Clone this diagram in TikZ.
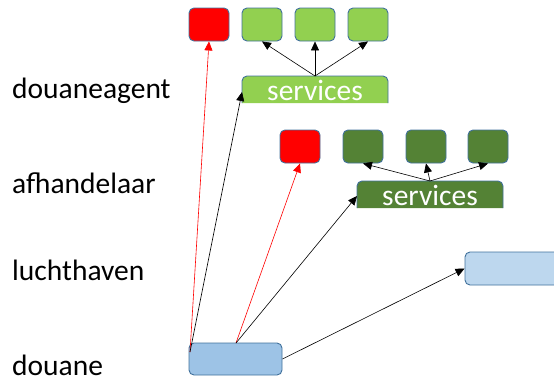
\documentclass[tikz,border=0pt]{standalone}
\usepackage{fontspec}
\setmainfont{Carlito}
\usetikzlibrary{arrows.meta}
\definecolor{bord}{HTML}{41719C}
\definecolor{lgreen}{HTML}{92D050}
\definecolor{dgreen}{HTML}{548235}
\definecolor{dblue}{HTML}{9DC3E6}
\definecolor{lblue}{HTML}{BDD7EE}
\tikzset{
  box/.style={draw=bord, line width=0.9pt, rounded corners=5pt, inner sep=0pt},
  lbl/.style={anchor=base west, inner sep=0pt, font=\fontsize{29.5}{31}\selectfont},
  arr/.style={-{Triangle[length=9pt,width=8pt]}, line width=0.6pt, black},
  rarr/.style={-{Triangle[length=9pt,width=8pt]}, line width=0.6pt, red},
  svc/.style={text=white, font=\fontsize{29.5}{31}\selectfont, anchor=base, inner sep=0pt}
}
\begin{document}
\begin{tikzpicture}[x=1pt,y=-1pt]
\useasboundingbox (0,0) rectangle (554,381);
\clip (0,0) rectangle (554,381);
% labels
\node[lbl] (l1) at (12,98) {douaneagent};
\node[lbl] (l2) at (12,193) {afhandelaar};
\node[lbl] (l3) at (12,280) {luchthaven};
\node[lbl] (l4) at (12,375) {douane};
% top row
\node[box, fill=red, minimum width=40pt, minimum height=33pt] (r1) at (209,24.5) {};
\node[box, fill=lgreen, minimum width=40pt, minimum height=33pt] (g1) at (262,24.5) {};
\node[box, fill=lgreen, minimum width=40pt, minimum height=33pt] (g2) at (315,24.5) {};
\node[box, fill=lgreen, minimum width=40pt, minimum height=33pt] (g3) at (368,24.5) {};
% services 1 (open bottom)
\fill[lgreen] (242,103) -- (242,81) [rounded corners=5pt] -- (242,76) -- (388,76) [sharp corners] -- (388,81) -- (388,103) -- cycle;
\draw[bord, line width=0.9pt] (242,103) [rounded corners=5pt] -- (242,76) -- (388,76) [sharp corners] -- (388,103);
\node[svc] (s1) at (315,100) {services};
\coordinate (s1n) at (315,76);
\coordinate (s1w) at (242,92);
% second row
\node[box, fill=red, minimum width=40pt, minimum height=33pt] (r2) at (300,146.5) {};
\node[box, fill=dgreen, minimum width=40pt, minimum height=33pt] (h1) at (363,146.5) {};
\node[box, fill=dgreen, minimum width=40pt, minimum height=33pt] (h2) at (426,146.5) {};
\node[box, fill=dgreen, minimum width=40pt, minimum height=33pt] (h3) at (488,146.5) {};
\fill[dgreen] (357,208) -- (357,186) [rounded corners=5pt] -- (357,181) -- (503,181) [sharp corners] -- (503,186) -- (503,208) -- cycle;
\draw[bord, line width=0.9pt] (357,208) [rounded corners=5pt] -- (357,181) -- (503,181) [sharp corners] -- (503,208);
\node[svc] (s2) at (430,205) {services};
\coordinate (s2n) at (430,181);
\coordinate (s2w) at (357,196);
% bottom
\node[box, fill=dblue, minimum width=93pt, minimum height=32pt] (d) at (235.5,359) {};
\node[box, fill=lblue, minimum width=100pt, minimum height=33pt] (lh) at (515,268.5) {};
\coordinate (d1) at (190,352);
\coordinate (d2) at (236,343);
% arrows
\draw[arr] (s1n) -- (g1.south);
\draw[arr] (s1n) -- (g2.south);
\draw[arr] (s1n) -- (g3.south);
\draw[arr] (s2n) -- (h1.south);
\draw[arr] (s2n) -- (h2.south);
\draw[arr] (s2n) -- (h3.south);
\draw[rarr] (d1) -- (r1.south);
\draw[arr] (d1) -- (s1w);
\draw[rarr] (d2) -- (r2.south);
\draw[arr] (d2) -- (s2w);
\draw[arr] (d.east) -- (lh.west);
\end{tikzpicture}
\end{document}
